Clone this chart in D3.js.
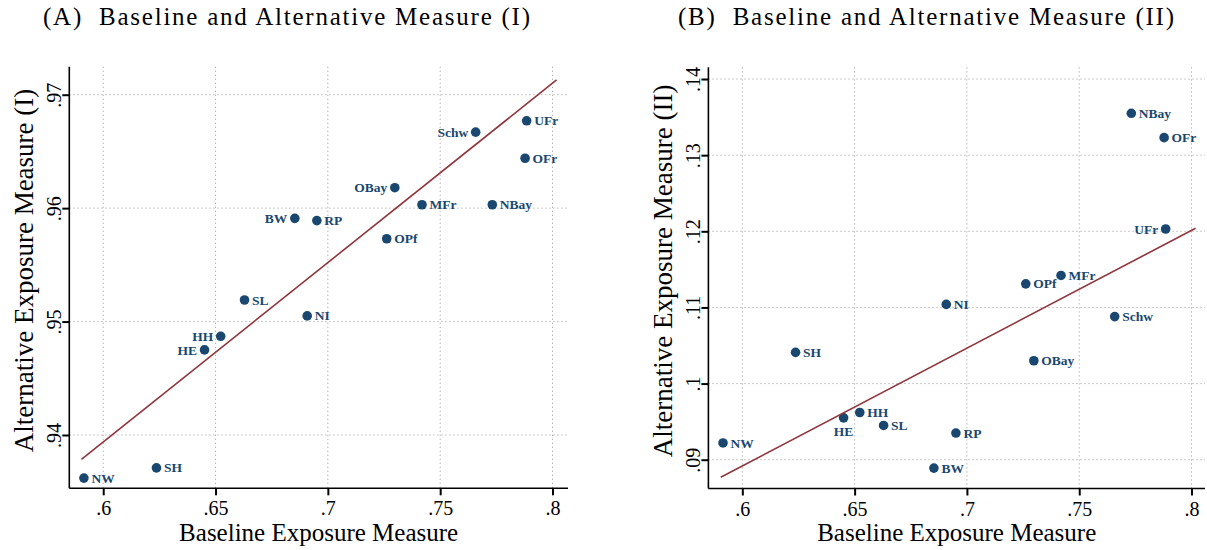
<!DOCTYPE html>
<html>
<head>
<meta charset="utf-8">
<script src="https://cdn.jsdelivr.net/npm/d3@7"></script>
<style>
  body { margin: 0; background: #fff; }
  svg { display: block; font-family: "Liberation Serif", "Times New Roman", serif; }
</style>
</head>
<body>
<svg id="chart" width="1207" height="550"></svg>
<script>
// units (same order in every array)
var units = ["NW", "SH", "HE", "HH", "SL", "BW", "RP", "NI", "OPf", "OBay", "MFr", "NBay", "Schw", "UFr", "OFr"];
var baseline = [0.5914, 0.6237, 0.6451, 0.6523, 0.6629, 0.6853, 0.6951, 0.6908, 0.7262, 0.7298, 0.7419, 0.7732, 0.7658, 0.7885, 0.7878];
var altOne = [0.9362, 0.9371, 0.9475, 0.9487, 0.9519, 0.9591, 0.9589, 0.9505, 0.9573, 0.9618, 0.9603, 0.9603, 0.9667, 0.9677, 0.9644];
var altTwo = [0.0922, 0.1041, 0.0955, 0.0962, 0.0945, 0.0889, 0.0935, 0.1104, 0.1131, 0.1030, 0.1142, 0.1355, 0.1088, 0.1203, 0.1323];

// marker label clock positions (3 = right, 9 = left, 6 = below)
var labelPosA = [3, 3, 9, 9, 3, 9, 3, 3, 3, 9, 3, 3, 9, 3, 3];
var labelPosB = [3, 3, 6, 3, 3, 3, 3, 3, 3, 3, 3, 3, 3, 9, 3];

// linear fit end points
var fitA = [[0.5903, 0.93785], [0.8018, 0.9713]];
var fitB = [[0.5904, 0.0877], [0.8018, 0.1204]];

var xTicks = [0.6, 0.65, 0.7, 0.75, 0.8];
var yTicksA = [0.94, 0.95, 0.96, 0.97];
var yTicksB = [0.09, 0.10, 0.11, 0.12, 0.13, 0.14];

var navy = "#1a476f", maroon = "#90353b";
var svg = d3.select("#chart");

function fmt(d) {
    return d3.format(".2~f")(d).replace(/^0/, "");
}

function drawPanel(p) {
    var x = d3.scaleLinear().domain(p.xDomain).range([p.left, p.right]);
    var y = d3.scaleLinear().domain(p.yDomain).range([p.bottom, p.top]);
    var g = svg.append("g");

    // dotted grid
    g.selectAll("line.hgrid")
        .data(p.yTicks)
        .enter().append("line")
        .attr("class", "hgrid")
        .attr("x1", p.left).attr("x2", p.right)
        .attr("y1", function (d) { return y(d); })
        .attr("y2", function (d) { return y(d); })
        .attr("stroke", "#a8a8a8").attr("stroke-width", 1)
        .attr("stroke-dasharray", "1.2,2.8");

    g.selectAll("line.vgrid")
        .data(xTicks)
        .enter().append("line")
        .attr("class", "vgrid")
        .attr("y1", p.top).attr("y2", p.bottom)
        .attr("x1", function (d) { return x(d); })
        .attr("x2", function (d) { return x(d); })
        .attr("stroke", "#a8a8a8").attr("stroke-width", 1)
        .attr("stroke-dasharray", "1.2,2.8");

    // axes
    var xAxis = g.append("g")
        .attr("transform", "translate(0," + p.bottom + ")")
        .call(d3.axisBottom(x).tickValues(xTicks).tickSize(7).tickFormat(fmt));
    xAxis.select(".domain").remove();
    xAxis.selectAll(".tick line").attr("stroke", "#000").attr("stroke-width", 2);
    xAxis.selectAll(".tick text")
        .attr("y", 27).attr("dy", 0)
        .attr("font-size", 20).attr("font-family", "Liberation Serif").attr("fill", "#000");

    var yAxis = g.append("g")
        .attr("transform", "translate(" + p.left + ",0)")
        .call(d3.axisLeft(y).tickValues(p.yTicks).tickSize(7).tickFormat(fmt));
    yAxis.select(".domain").remove();
    yAxis.selectAll(".tick line").attr("stroke", "#000").attr("stroke-width", 2);
    yAxis.selectAll(".tick text")
        .attr("x", 0).attr("y", 0).attr("dy", 0)
        .attr("text-anchor", "middle")
        .attr("transform", "translate(-8,0) rotate(-90)")
        .attr("font-size", 20).attr("font-family", "Liberation Serif").attr("fill", "#000");

    g.append("line")
        .attr("x1", p.left).attr("x2", p.right)
        .attr("y1", p.bottom).attr("y2", p.bottom)
        .attr("stroke", "#000").attr("stroke-width", 1.6);
    g.append("line")
        .attr("x1", p.left).attr("x2", p.left)
        .attr("y1", p.top).attr("y2", p.bottom)
        .attr("stroke", "#000").attr("stroke-width", 1.6);

    // points
    var pts = units.map(function (u, i) {
        return { name: u, bx: baseline[i], ay: p.yValues[i], pos: p.labelPos[i] };
    });

    g.selectAll("circle.pt")
        .data(pts)
        .enter().append("circle")
        .attr("class", "pt")
        .attr("cx", function (d) { return x(d.bx); })
        .attr("cy", function (d) { return y(d.ay); })
        .attr("r", 4.8)
        .attr("fill", navy);

    g.selectAll("text.lbl")
        .data(pts)
        .enter().append("text")
        .attr("class", "lbl")
        .attr("x", function (d) {
            if (d.pos == 3) return x(d.bx) + 7.5;
            if (d.pos == 9) return x(d.bx) - 7.5;
            return x(d.bx);
        })
        .attr("y", function (d) {
            return d.pos == 6 ? y(d.ay) + 18 : y(d.ay) + 4.6;
        })
        .attr("text-anchor", function (d) {
            if (d.pos == 3) return "start";
            if (d.pos == 9) return "end";
            return "middle";
        })
        .attr("font-size", 13.5)
        .attr("font-weight", "bold")
        .attr("fill", navy)
        .text(function (d) { return d.name; });

    // fitted line
    g.append("path")
        .datum(p.fit)
        .attr("d", d3.line()
            .x(function (d) { return x(d[0]); })
            .y(function (d) { return y(d[1]); }))
        .attr("fill", "none")
        .attr("stroke", maroon)
        .attr("stroke-width", 1.6);

    // titles
    g.append("text")
        .attr("x", p.titleX).attr("y", 25)
        .attr("text-anchor", "middle")
        .attr("font-size", 25)
        .attr("textLength", p.titleWidth)
        .attr("lengthAdjust", "spacing")
        .style("white-space", "pre")
        .attr("fill", "#000")
        .text(p.title);

    g.append("text")
        .attr("x", (p.left + p.right) / 2).attr("y", 540.5)
        .attr("text-anchor", "middle")
        .attr("font-size", 25)
        .attr("fill", "#000")
        .text("Baseline Exposure Measure");

    g.append("text")
        .attr("transform", "translate(" + (p.left - 36) + "," + ((p.top + p.bottom) / 2 - 7) + ") rotate(-90)")
        .attr("text-anchor", "middle")
        .attr("font-size", 27)
        .attr("fill", "#000")
        .text(p.yTitle);
}

drawPanel({
    left: 69.3, right: 568, top: 66.7, bottom: 488.3,
    xDomain: [0.5849, 0.8069], yDomain: [0.9353, 0.97247],
    yTicks: yTicksA, yValues: altOne, labelPos: labelPosA, fit: fitA,
    title: "(A)  Baseline and Alternative Measure (I)", titleX: 286.5, titleWidth: 487,
    yTitle: "Alternative Exposure Measure (I)"
});

drawPanel({
    left: 708.4, right: 1205, top: 67.3, bottom: 488.5,
    xDomain: [0.5849, 0.806], yDomain: [0.08622, 0.14154],
    yTicks: yTicksB, yValues: altTwo, labelPos: labelPosB, fit: fitB,
    title: "(B)  Baseline and Alternative Measure (II)", titleX: 926, titleWidth: 496,
    yTitle: "Alternative Exposure Measure (II)"
});
</script>
</body>
</html>
